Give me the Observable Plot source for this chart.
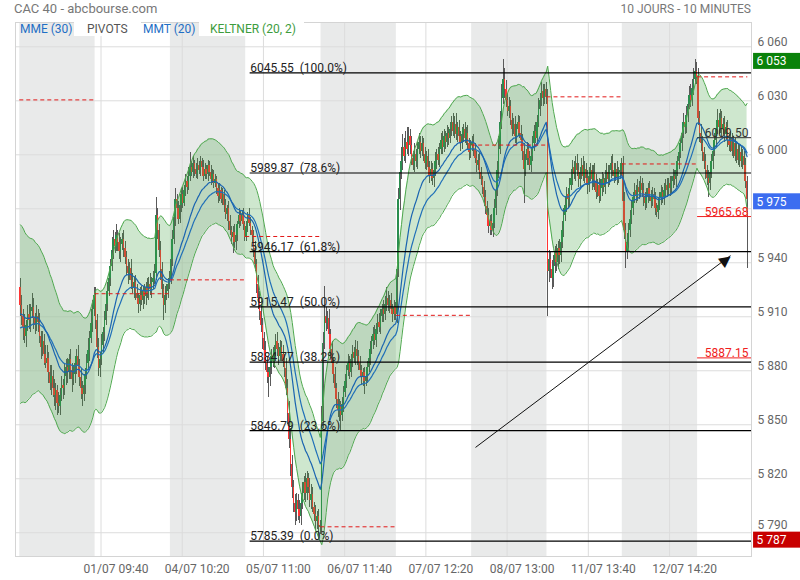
<!DOCTYPE html>
<html><head><meta charset="utf-8">
<script src="https://cdn.jsdelivr.net/npm/d3@7"></script>
<script src="https://cdn.jsdelivr.net/npm/@observablehq/plot@0.6"></script>
<style>
body{margin:0;background:#fff;font-family:Roboto,sans-serif;}
#wrap{position:relative;width:800px;height:580px;overflow:hidden;}
.t{position:absolute;font-size:12px;line-height:14px;white-space:nowrap;}
</style></head><body><div id="wrap"></div>
<script>
// ---------- data ----------
const dayLabels = ["30/06","01/07","04/07","05/07","06/07","07/07","08/07","11/07","12/07","13/07"];
const barsPerDay = 51;
const firstOpen = 5926;
// closes of each 10-minute bar, per day
const c0 = [5916,5910,5904,5899,5905,5911,5908,5913,5915,5909,
5905,5910,5907,5899,5893,5896,5889,5884,5887,5879,
5873,5877,5870,5866,5869,5862,5860,5866,5872,5870,
5877,5882,5879,5886,5880,5875,5878,5884,5888,5883,
5876,5870,5867,5872,5878,5884,5891,5898,5906,5914,5922];
const c1 = [5908,5893,5881,5886,5894,5901,5908,5917,5924,5931,
5938,5947,5953,5949,5955,5951,5946,5950,5953,5948,
5943,5938,5934,5937,5930,5926,5929,5923,5920,5917,
5922,5919,5924,5921,5926,5923,5928,5925,5929,5931,
5934,5966,5958,5947,5936,5925,5916,5922,5924,5928,5931];
const c2 = [5942,5953,5965,5975,5970,5964,5972,5978,5973,5980,
5985,5982,5988,5993,5990,5995,5992,5989,5994,5991,
5996,5993,5988,5992,5989,5994,5990,5986,5989,5984,
5986,5981,5977,5980,5975,5978,5972,5967,5970,5963,
5958,5954,5957,5951,5955,5961,5966,5963,5967,5961,5954];
const c3 = [5960,5966,5962,5958,5955,5948,5939,5928,5920,5913,
5905,5898,5891,5884,5879,5876,5882,5888,5885,5891,
5896,5892,5888,5893,5889,5885,5881,5870,5856,5842,
5828,5815,5806,5801,5808,5803,5799,5806,5812,5818,
5812,5820,5815,5808,5811,5804,5800,5796,5799,5794,5793];
const c4 = [5852,5895,5910,5906,5909,5900,5892,5884,5878,5870,
5864,5858,5861,5855,5861,5868,5874,5880,5884,5879,
5886,5890,5887,5892,5888,5884,5880,5876,5879,5874,
5877,5882,5887,5892,5896,5900,5897,5903,5907,5904,
5910,5914,5911,5917,5920,5916,5919,5914,5911,5915,5911];
const c5 = [5936,5975,5990,5996,6004,5999,6007,6003,6010,6005,
5998,5994,6000,5996,6003,6007,6002,6006,6000,5995,
5999,5993,5988,5992,5987,5991,5996,6000,5997,6003,
6008,6004,6010,6007,6012,6009,6014,6018,6013,6017,
6011,6015,6010,6006,6011,6014,6009,6012,6006,6001,6005];
const c6 = [6007,6003,5998,5994,5997,5990,5986,5982,5976,5971,
5966,5960,5963,5958,5962,5970,5980,5991,6003,6018,
6031,6042,6036,6030,6024,6027,6019,6014,6017,6010,
6014,6018,6012,6008,6002,5992,5997,6003,5998,5994,
5999,6006,6013,6009,6018,6025,6030,6035,6031,6036,6032];
const c7 = [5935,5942,5936,5931,5938,5945,5940,5948,5944,5951,
5958,5966,5972,5978,5975,5983,5987,5993,5989,5995,
5991,5986,5990,5994,5988,5992,5987,5983,5988,5991,
5986,5990,5985,5979,5983,5977,5981,5986,5982,5987,
5990,5986,5991,5995,5991,5988,5992,5987,5990,5991,5995];
const c8 = [5974,5958,5946,5951,5958,5964,5970,5976,5980,5977,
5982,5979,5984,5980,5976,5973,5977,5981,5977,5974,
5978,5975,5970,5968,5972,5976,5979,5976,5980,5983,
5980,5984,5981,5985,5988,5986,5991,5996,6001,6006,
6012,6018,6015,6022,6028,6033,6030,6037,6042,6046,6043];
const c9 = [6020,6012,6006,6001,5996,5991,5987,5984,5990,5996,
6002,6008,6014,6019,6015,6020,6014,6017,6011,6015,
6008,6005,6009,6002,6006,5999,6003,5997,6001,5996,
5999,5994,5985,5975];
// upper / lower wick lengths (points above max(open,close), below min(open,close))
const wu0 = [5,6,4,7,3,5,6,4,8,5,3,6,4,5,3,6,4,5,7,3,4,6,3,5,4,3,6,4,5,3,7,4,5,3,6,4,5,3,4,6,3,5,4,6,3,5,7,4,8,5,4];
const wd0 = [6,5,7,4,6,3,5,7,4,6,5,3,6,4,7,5,6,3,5,6,4,7,5,6,8,7,4,5,3,6,4,5,6,4,5,7,3,5,6,4,5,6,7,4,5,3,4,6,3,5,4];
const wu1 = [4,3,5,4,6,3,5,4,5,6,4,7,5,4,6,3,5,4,3,5,4,3,4,3,5,4,3,4,5,3,4,5,3,4,3,5,4,6,3,4,5,10,4,3,5,4,3,5,4,3,4];
const wd1 = [5,6,4,5,3,4,5,3,4,3,4,3,5,4,3,5,4,6,3,5,4,5,6,4,5,3,6,4,3,5,4,3,5,4,5,3,4,3,5,4,3,4,5,4,6,5,8,4,3,4,3];
const wu2 = [4,5,4,6,3,4,5,3,4,3,4,3,5,8,3,4,2,3,4,2,3,2,4,3,2,3,2,4,3,2,3,2,3,4,2,3,2,3,2,4,3,2,3,4,3,2,4,3,2,3,2];
const wd2 = [3,4,3,5,4,3,2,4,3,2,3,4,2,3,2,3,4,2,3,2,3,2,3,2,3,4,2,3,2,3,2,3,4,3,2,3,4,3,4,5,3,4,9,3,4,3,2,3,2,3,2];
const wu3 = [3,2,4,3,2,3,4,3,5,4,3,4,3,5,4,3,6,4,5,3,4,5,3,4,3,5,4,6,5,7,6,5,4,5,4,3,5,4,6,3,5,4,3,5,6,4,3,5,3,4,3];
const wd3 = [2,3,2,3,4,5,4,5,6,5,4,6,5,4,6,11,5,4,3,4,3,4,5,3,4,3,5,4,6,5,7,6,5,7,5,6,4,5,3,4,5,4,3,4,5,3,4,5,4,7,4];
const wu4 = [8,6,17,5,4,5,3,4,3,4,3,4,3,2,4,3,4,3,5,4,3,4,3,5,4,3,4,3,2,3,4,3,5,4,3,4,5,3,4,5,4,3,5,4,6,4,3,4,3,4,3];
const wd4 = [3,4,3,4,3,4,5,4,5,4,5,4,6,8,3,4,3,4,3,4,3,4,3,4,5,4,3,4,5,7,3,4,3,4,3,4,3,4,3,3,4,3,4,3,4,3,4,3,4,3,3];
const wu5 = [4,6,5,8,7,5,6,8,5,4,5,4,6,3,4,5,3,4,3,4,3,4,3,4,3,4,5,3,4,3,4,5,4,3,4,3,4,3,5,4,6,3,4,3,4,3,4,3,4,3,3];
const wd5 = [5,4,6,4,5,3,4,3,4,5,4,3,4,3,4,3,4,3,4,3,4,3,4,3,4,5,3,4,3,4,3,4,3,4,3,4,3,4,3,4,3,4,3,4,3,4,3,4,3,4,3];
const wu6 = [3,4,3,4,3,4,3,2,3,4,3,4,3,4,3,5,6,5,7,6,8,11,6,5,4,5,3,4,3,4,3,4,3,4,3,4,3,4,3,4,5,4,3,5,4,6,4,5,4,3,4];
const wd6 = [3,4,3,4,3,4,3,4,5,4,6,4,5,3,4,3,4,3,4,3,4,3,5,4,3,4,3,4,3,4,5,4,3,4,5,19,4,3,4,3,4,3,4,3,4,3,4,3,4,3,4];
const wu7 = [4,5,4,5,6,4,5,4,5,4,5,4,5,4,3,4,5,4,3,4,5,4,3,4,5,4,3,4,5,4,3,4,5,4,3,4,5,4,3,4,5,4,3,4,5,4,3,4,3,4,3];
const wd7 = [25,6,5,6,5,4,5,4,5,4,3,4,3,4,5,4,3,4,3,4,3,4,5,4,3,4,3,5,4,3,6,4,5,4,3,4,3,4,3,4,3,4,3,4,3,4,3,4,3,4,3];
const wu8 = [4,5,4,5,4,5,4,3,4,3,4,3,4,3,4,3,4,3,4,3,4,3,4,3,4,3,4,3,4,3,4,3,4,3,4,3,4,3,4,3,4,5,4,5,4,5,6,5,6,7,5];
const wd8 = [4,5,9,4,5,4,3,4,3,4,3,4,3,4,5,4,3,4,3,4,3,5,4,3,4,3,4,3,4,3,4,3,4,3,4,3,4,3,4,3,4,3,4,3,4,3,4,3,4,3,4];
const wu9 = [5,4,5,4,3,4,3,4,5,4,5,4,5,6,4,5,4,3,4,3,4,3,4,3,4,3,4,3,4,3,4,3,4,3];
const wd9 = [4,5,4,5,4,5,4,8,4,3,4,3,4,3,4,3,4,3,4,3,4,3,4,3,4,3,4,3,4,3,4,3,4,38];
// indicator starting values
const ema20Start = 5911, ema30Start = 5903, atrStart = 25;
// previous-close pivots, one per day
const pivotValues = [6030.5, 5922.8, 5930.5, 5954.6, 5793.3, 5910.8, 6005.4, 6032.2, 5994.9, 6043.3];
// Fibonacci retracement
const fibValues = [6045.55, 5989.87, 5946.17, 5915.47, 5884.77, 5846.79, 5785.39];
const fibPct = ["100.0%", "78.6%", "61.8%", "50.0%", "38.2%", "23.6%", "0.0%"];
const fibStartBar = 156;
// current-day levels
const levelValues = [6009.50, 5965.68, 5887.15];
// price tags: high, last, low
const tagValues = [6053, 5975, 5787];
// x tick labels
const xTickBars = [55, 110, 165, 220, 275, 330, 385, 440];
const xTickLabels = ["01/07 09:40","04/07 10:20","05/07 11:00","06/07 11:40","07/07 12:20","08/07 13:00","11/07 13:40","12/07 14:20"];
const yTicks = [5790, 5820, 5850, 5880, 5910, 5940, 5970, 6000, 6030, 6060];
const yTickLabelsShown = [5790, 5820, 5850, 5880, 5910, 5940, 6000, 6030, 6060]; // 5 970 sits under the last-price tag
// trend arrow (bar index, price)
const arrowFrom = [308.6, 5837.4], arrowTo = [481.3, 5944];

// ---------- build ----------
const closes = [c0,c1,c2,c3,c4,c5,c6,c7,c8,c9];
const wus = [wu0,wu1,wu2,wu3,wu4,wu5,wu6,wu7,wu8,wu9];
const wds = [wd0,wd1,wd2,wd3,wd4,wd5,wd6,wd7,wd8,wd9];
const bars = [];
let prev = firstOpen, idx = 0;
closes.forEach((cs, d) => cs.forEach((c, j) => {
  const o = prev;
  bars.push({i: idx, open: o, close: c, high: Math.max(o, c) + wus[d][j], low: Math.min(o, c) - wds[d][j]});
  prev = c; idx++;
}));
const nBars = bars.length;
let e20 = ema20Start, e30 = ema30Start, atr = atrStart, pc = firstOpen;
for (const b of bars) {
  const tr = Math.max(b.high - b.low, Math.abs(b.high - pc), Math.abs(b.low - pc));
  atr += (tr - atr) / 20;
  e20 += (b.close - e20) * 2 / 21;
  e30 += (b.close - e30) * 2 / 31;
  b.e20 = e20; b.e30 = e30; b.kUp = e20 + 2 * atr; b.kLo = e20 - 2 * atr;
  pc = b.close;
}
const days = dayLabels.map((lab, d) => ({d, s: d * barsPerDay, e: Math.min((d + 1) * barsPerDay, nBars)}));
const pivots = days.map((dd, k) => ({s: dd.s, e: dd.e, v: pivotValues[k]}));
const fibs = fibValues.map((v, k) => ({v, label: `${v.toFixed(2)}  (${fibPct[k]})`}));
const lastDayStart = days[days.length - 1].s;
const levels = levelValues.map((v) => ({v, label: v.toFixed(2)}));
const fmt = v => `${Math.floor(v / 1000)} ${String(v % 1000).padStart(3, "0")}`;
const tags = tagValues.map(v => ({v, label: fmt(v)}));
const xTicks = xTickBars.map((b, k) => ({b, label: xTickLabels[k]}));

// ---------- styles ----------
const X0 = -2.9, X1 = 495.5;
const up = "#2a8d4f", down = "#ff3434";
const levelColors = ["#333", "#f02020", "#f02020"];
const tagColors = ["#0a820a", "#3c6df0", "#c80000"];
const pxPerPoint = 1.8; // vertical pixels per index point, used to nudge labels

const chart = Plot.plot({
  width: 800, height: 580,
  marginLeft: 15, marginRight: 49, marginTop: 22, marginBottom: 24,
  style: {fontFamily: "Roboto, sans-serif", fontSize: "12px", background: "#fff"},
  x: {domain: [X0, X1], axis: null},
  y: {domain: [5776.8, 6073.5], axis: null},
  marks: [
    Plot.rect(days.filter(d => d.d % 2 === 0), {x1: "s", x2: "e", fill: "#e9eaea"}),
    Plot.ruleY(yTicks, {stroke: "#dcdcdc"}),
    Plot.ruleX(xTickBars, {stroke: "#dcdcdc"}),
    Plot.ruleX(bars, {x: d => d.i + 0.5, y1: "low", y2: "high", stroke: "#5a5a5a", strokeWidth: 1, shapeRendering: "crispEdges"}),
    Plot.rect(bars.filter(d => d.close >= d.open), {x1: d => d.i + 0.05, x2: d => d.i + 0.95, y1: "open", y2: "close", fill: up, shapeRendering: "crispEdges"}),
    Plot.rect(bars.filter(d => d.close < d.open), {x1: d => d.i + 0.05, x2: d => d.i + 0.95, y1: "open", y2: "close", fill: down, shapeRendering: "crispEdges"}),
    Plot.areaY(bars, {x: d => d.i + 0.5, y1: "kLo", y2: "kUp", fill: "rgb(60,160,60)", fillOpacity: 0.25}),
    Plot.lineY(bars, {x: d => d.i + 0.5, y: "kUp", stroke: "#4ea84e", strokeWidth: 1}),
    Plot.lineY(bars, {x: d => d.i + 0.5, y: "kLo", stroke: "#4ea84e", strokeWidth: 1}),
    Plot.lineY(bars, {x: d => d.i + 0.5, y: "e30", stroke: "#1f6fb8", strokeWidth: 1.2}),
    Plot.lineY(bars, {x: d => d.i + 0.5, y: "e20", stroke: "#1a64b0", strokeWidth: 1.2}),
    Plot.ruleY(pivots, {y: "v", x1: "s", x2: "e", stroke: "#e21818", strokeDasharray: "4,3", strokeWidth: 1}),
    Plot.ruleY(fibs, {y: "v", x1: fibStartBar, x2: X1, stroke: "#000", strokeWidth: 1.2}),
    Plot.text(fibs, {x: fibStartBar, y: "v", text: "label", textAnchor: "start", lineAnchor: "bottom", dy: -1, fill: "#222", fontSize: 12}),
    Plot.ruleY(levels, {y: "v", x1: lastDayStart, x2: X1, stroke: (d, k) => levelColors[k]}),
    Plot.text(levels, {x: X1, y: "v", text: "label", textAnchor: "end", lineAnchor: "bottom", dx: -3, dy: -1, fill: (d, k) => levelColors[k], fontSize: 12}),
    Plot.link([0], {x1: () => arrowFrom[0], y1: () => arrowFrom[1], x2: () => arrowTo[0], y2: () => arrowTo[1], stroke: "#111", strokeWidth: 1}),
    Plot.text([0], {x: () => arrowTo[0], y: () => arrowTo[1], text: () => "▶", rotate: -37, fontSize: 15, dx: -5, dy: 3.5, fill: "#111", fontFamily: "DejaVu Sans"}),
    Plot.frame({stroke: "#d4d4d4"}),
    Plot.text(yTickLabelsShown, {y: d => d === 5790 ? d + 4 / pxPerPoint : d + 1 / pxPerPoint, frameAnchor: "right", text: d => fmt(d), textAnchor: "start", lineAnchor: "bottom", dx: 6, fill: "#666", fontSize: 12}),
    Plot.text(xTicks, {x: "b", text: "label", frameAnchor: "bottom", lineAnchor: "middle", dx: 15, dy: 13, fill: "#666", fontSize: 12}),
    Plot.rect(tags, {x1: X1 + 1.4, x2: X1 + 40, y1: d => d.v + 3.33, y2: d => d.v - 5.56, fill: (d, k) => tagColors[k]}),
    Plot.text(tags, {x: X1 + 1.4, y: d => d.v - 2 / pxPerPoint, text: "label", textAnchor: "start", lineAnchor: "middle", dx: 3, fill: "#fff", fontSize: 12})
  ],
  color: {type: "identity"}
});
const wrap = document.getElementById("wrap");
wrap.appendChild(chart);
const add = (txt, css) => { const s = document.createElement("div"); s.className = "t"; s.textContent = txt; s.style.cssText += css; wrap.appendChild(s); };
add("CAC 40 - abcbourse.com", "left:14px;top:2px;font-size:13px;color:#777;");
add("10 JOURS - 10 MINUTES", "right:49px;top:2px;color:#777;");
add("MME (30)", "left:20px;top:22px;color:#1f6fc5;");
add("PIVOTS", "left:74px;top:22px;color:#555;background:#fff;padding:0 13px 0 13px;");
add("MMT (20)", "left:143px;top:22px;color:#1f6fc5;");
add("KELTNER (20, 2)", "left:199px;top:22px;color:#3d9c3d;background:#fff;padding:0 8px 0 11px;");
</script></body></html>
